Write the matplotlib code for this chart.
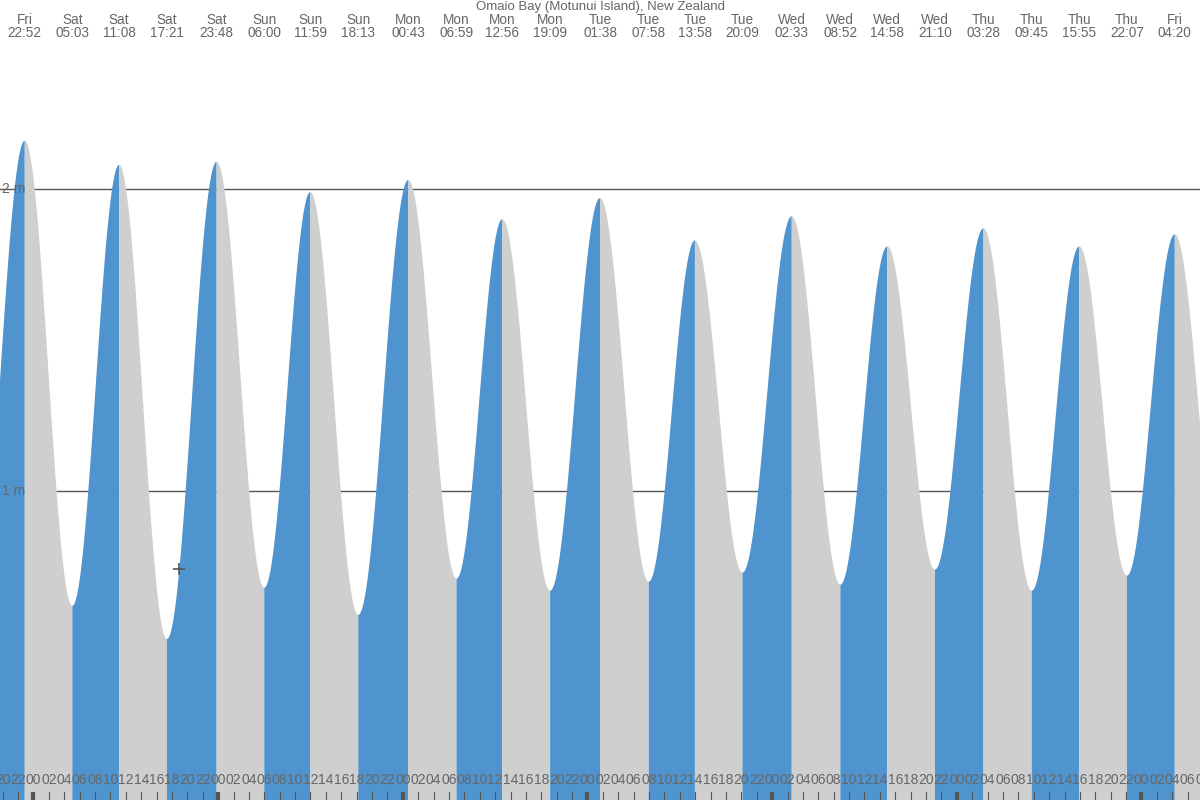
import numpy as np
import matplotlib.pyplot as plt
import matplotlib.transforms as mtransforms

plt.rcParams['font.family'] = ['Liberation Sans', 'DejaVu Sans']

# Tide extremes: day, time label, height (m). Hours counted from Fri 00:00
event_days = ["Fri", "Sat", "Sat", "Sat", "Sat", "Sun", "Sun", "Sun",
              "Mon", "Mon", "Mon", "Mon", "Tue", "Tue", "Tue", "Tue",
              "Wed", "Wed", "Wed", "Wed", "Thu", "Thu", "Thu", "Thu", "Fri"]
event_times = ["22:52", "05:03", "11:08", "17:21", "23:48", "06:00", "11:59", "18:13",
               "00:43", "06:59", "12:56", "19:09", "01:38", "07:58", "13:58", "20:09",
               "02:33", "08:52", "14:58", "21:10", "03:28", "09:45", "15:55", "22:07", "04:20"]
event_heights = [2.16, 0.62, 2.08, 0.51, 2.09, 0.68, 1.99, 0.59,
                 2.03, 0.71, 1.90, 0.67, 1.97, 0.70, 1.83, 0.73,
                 1.91, 0.69, 1.81, 0.74, 1.87, 0.67, 1.81, 0.72, 1.85]

# extremes just outside the visible window
low_before = (16.5, 0.60)
low_after = (178.5, 0.71)

title = "Omaio Bay (Motunui Island), New Zealand"
now_hour = 42.97  # Sat 18:58

day_index = {"Fri": 0, "Sat": 1, "Sun": 2, "Mon": 3, "Tue": 4, "Wed": 5, "Thu": 6}
event_hours = []
prev = -1
for d, tm in zip(event_days, event_times):
    h = day_index[d] * 24 + int(tm[:2]) + int(tm[3:]) / 60
    if h < prev:
        h += 7 * 24
    event_hours.append(h)
    prev = h

hours = [low_before[0]] + event_hours + [low_after[0]]
heights = [low_before[1]] + event_heights + [low_after[1]]

blue = "#4f94cf"
grey = "#cfcfcf"
txt = "#666666"

x0, x1 = 19.65, 175.61
y0, y1 = -0.023, 2.626

fig = plt.figure(figsize=(12, 8), dpi=100)
ax = fig.add_axes([0, 0, 1, 1])
ax.set_xlim(x0, x1)
ax.set_ylim(y0, y1)
ax.axis("off")


def tide_at(t):
    for i in range(len(hours) - 1):
        if hours[i] <= t <= hours[i + 1]:
            f = (t - hours[i]) / (hours[i + 1] - hours[i])
            return heights[i] + (heights[i + 1] - heights[i]) * (1 - np.cos(np.pi * f)) / 2
    return np.nan


# curve between extremes, rising = blue, falling = grey
for i in range(len(hours) - 1):
    t = np.linspace(hours[i], hours[i + 1], 200)
    f = (t - hours[i]) / (hours[i + 1] - hours[i])
    h = heights[i] + (heights[i + 1] - heights[i]) * (1 - np.cos(np.pi * f)) / 2
    col = blue if heights[i + 1] > heights[i] else grey
    ax.fill_between(t, h, y0 - 1, color=col, linewidth=0, zorder=2)

# metre lines behind the fill
for m in [1, 2]:
    ax.axhline(m, color="#555555", linewidth=1, zorder=1)
    ax.text(x0 + 0.3, m, "%d m" % m, color=txt, fontsize=10, va="center", ha="left", zorder=3)

# top labels
ax.text(0.5, 1 - 7 / 800, title, transform=ax.transAxes, ha="center", va="center",
        color=txt, fontsize=9.5)
trans = mtransforms.blended_transform_factory(ax.transData, ax.transAxes)
for h, d, tm in zip(event_hours, event_days, event_times):
    ax.text(h, 1 - 20 / 800, d, transform=trans, ha="center", va="center", color=txt, fontsize=9.8)
    ax.text(h, 1 - 33 / 800, tm, transform=trans, ha="center", va="center", color=txt, fontsize=9.8)

# bottom hour labels and ticks
for hr in range(20, 178, 2):
    ax.text(hr, 20 / 800, "%02d" % (hr % 24), transform=trans, ha="center", va="center",
            color=txt, fontsize=10, zorder=4)
    if hr % 24 == 0:
        ax.plot([hr, hr], [0, 8 / 800], transform=trans, color="#555555", linewidth=3,
                solid_capstyle="butt", zorder=4)
    else:
        ax.plot([hr, hr], [0, 8 / 800], transform=trans, color="#555555", linewidth=0.8,
                zorder=4)

# current time marker
ax.plot(now_hour, tide_at(now_hour), marker="+", color="#555555", markersize=9,
        markeredgewidth=1.2, zorder=5)

fig.savefig("out.png", dpi=100)
